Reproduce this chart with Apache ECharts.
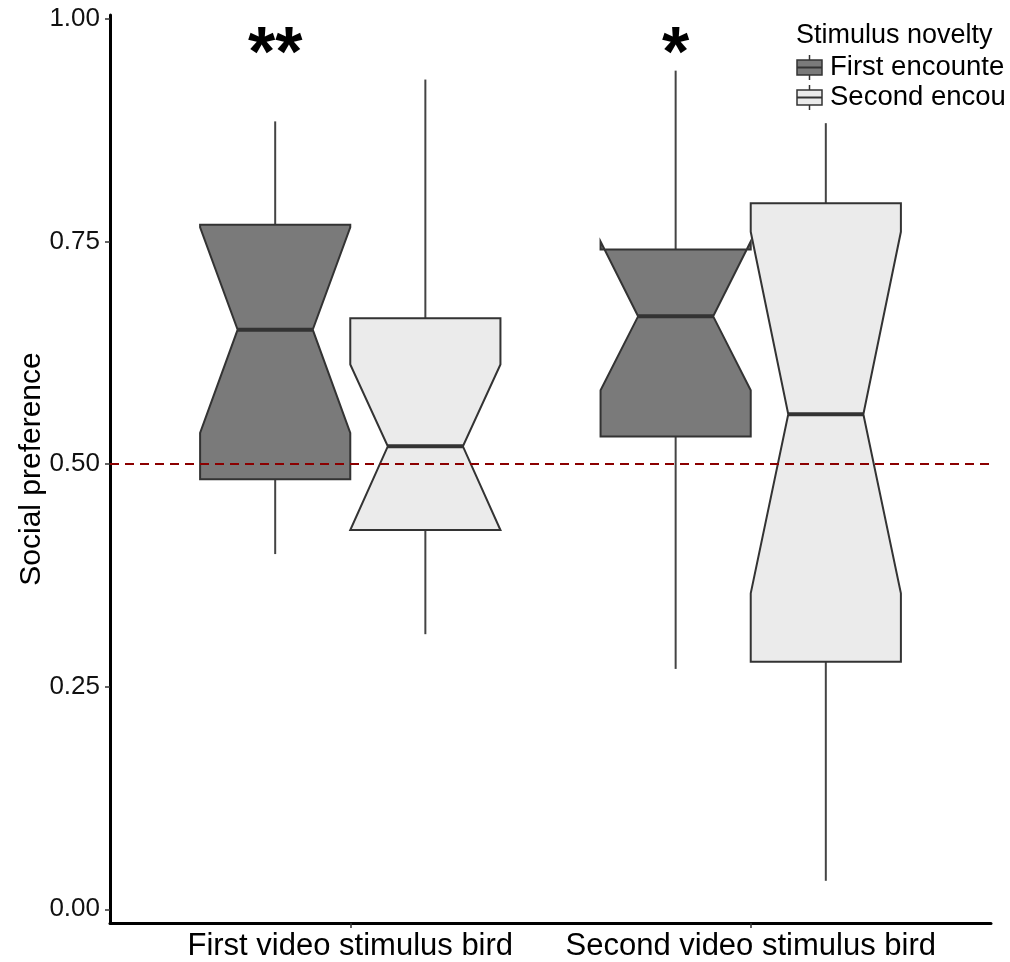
<!DOCTYPE html>
<html>
<head>
<meta charset="utf-8">
<script src="https://cdn.jsdelivr.net/npm/echarts@6/dist/echarts.min.js"></script>
<style>
html, body { margin: 0; padding: 0; background: #ffffff; }
#chart { position: absolute; left: 0; top: 0; width: 1005px; height: 962px; }
</style>
</head>
<body>
<div id="chart"></div>
<script>
// ---- data ----
const categories = ['First video stimulus bird', 'Second video stimulus bird'];
const groupNames = ['First encounter', 'Second encounter'];
const yTicks = [0, 0.25, 0.5, 0.75, 1];
const referenceLevel = 0.5;

// First encounter (dark boxes), one value per category
const firstWhiskerLow  = [0.399, 0.270];
const firstQ1          = [0.483, 0.531];
const firstNotchLow    = [0.535, 0.583];
const firstMedian      = [0.651, 0.666];
const firstNotchHigh   = [0.766, 0.750];
const firstQ3          = [0.769, 0.741];
const firstWhiskerHigh = [0.885, 0.942];

// Second encounter (light boxes)
const secondWhiskerLow  = [0.309, 0.032];
const secondQ1          = [0.426, 0.278];
const secondNotchLow    = [0.426, 0.355];
const secondMedian      = [0.520, 0.556];
const secondNotchHigh   = [0.612, 0.761];
const secondQ3          = [0.664, 0.793];
const secondWhiskerHigh = [0.932, 0.883];

// significance annotations
const starLabels = ['**', '*'];
const starCategory = [0, 1];
const starY = [0.958, 0.958];

// ---- build ----
const DODGE = 0.1875, HALF_W = 0.1875, NOTCH_W = 0.09375;
function buildBoxes(groupIndex, lo, q1, nlo, med, nhi, q3, hi) {
  return categories.map((c, i) => [
    i + 1 + (groupIndex === 0 ? -DODGE : DODGE),
    lo[i], q1[i], nlo[i], med[i], nhi[i], q3[i], hi[i]
  ]);
}
const firstData = buildBoxes(0, firstWhiskerLow, firstQ1, firstNotchLow, firstMedian, firstNotchHigh, firstQ3, firstWhiskerHigh);
const secondData = buildBoxes(1, secondWhiskerLow, secondQ1, secondNotchLow, secondMedian, secondNotchHigh, secondQ3, secondWhiskerHigh);

const EDGE = '#333333';
function makeRender(fill) {
  return function (params, api) {
    const x = api.value(0);
    const lo = api.value(1), q1 = api.value(2), nlo = api.value(3), med = api.value(4),
          nhi = api.value(5), q3 = api.value(6), hi = api.value(7);
    const P = (xv, yv) => api.coord([xv, yv]);
    const xl = x - HALF_W, xr = x + HALF_W, nl = x - NOTCH_W, nr = x + NOTCH_W;
    const poly = [
      P(xl, q3), P(xl, nhi), P(nl, med), P(xl, nlo), P(xl, q1),
      P(xr, q1), P(xr, nlo), P(nr, med), P(xr, nhi), P(xr, q3)
    ];
    const top = P(x, hi), upper = P(x, q3), lower = P(x, q1), bot = P(x, lo);
    const mL = P(nl, med), mR = P(nr, med);
    return {
      type: 'group',
      children: [
        { type: 'line', shape: { x1: top[0], y1: top[1], x2: upper[0], y2: upper[1] },
          style: { stroke: '#444444', lineWidth: 2 } },
        { type: 'line', shape: { x1: lower[0], y1: lower[1], x2: bot[0], y2: bot[1] },
          style: { stroke: '#444444', lineWidth: 2 } },
        { type: 'polygon', shape: { points: poly },
          style: { fill: fill, stroke: EDGE, lineWidth: 2, lineJoin: 'miter' } },
        { type: 'line', shape: { x1: mL[0], y1: mL[1], x2: mR[0], y2: mR[1] },
          style: { stroke: EDGE, lineWidth: 4 } }
      ]
    };
  };
}

const starData = starLabels.map((s, i) => [starCategory[i] + 1 - DODGE, starY[i]]);

const FONT = 'Liberation Sans, Arial, Helvetica, sans-serif';
const chart = echarts.init(document.getElementById('chart'), null, { renderer: 'canvas' });
function legendKey(y, fill) {
  return [
    { type: 'line', shape: { x1: 809.5, y1: y - 12.5, x2: 809.5, y2: y + 12.5 },
      style: { stroke: '#333333', lineWidth: 1.5 } },
    { type: 'rect', shape: { x: 797, y: y - 7.5, width: 25, height: 15 },
      style: { fill: fill, stroke: '#333333', lineWidth: 1.5 } },
    { type: 'line', shape: { x1: 797, y1: y, x2: 822, y2: y },
      style: { stroke: '#333333', lineWidth: 2 } }
  ];
}
chart.setOption({
  animation: false,
  backgroundColor: '#ffffff',
  grid: { left: 110, right: 14, top: 15, bottom: 39, containLabel: false, outerBoundsMode: 'none' },
  xAxis: {
    type: 'value', min: 0.4, max: 2.6,
    splitLine: { show: false },
    axisLine: { onZero: false, lineStyle: { color: '#000000', width: 3 } },
    axisTick: { customValues: [1, 2], length: 5, lineStyle: { color: '#333333', width: 1.5 } },
    axisLabel: { customValues: [1, 2], formatter: v => categories[Math.round(v) - 1],
      fontSize: 31, color: '#000000', fontFamily: FONT, margin: 8 }
  },
  yAxis: {
    type: 'value', min: -0.0154, max: 1.0045,
    name: 'Social preference', nameLocation: 'middle', nameGap: 63, nameMoveOverlap: false,
    nameTextStyle: { fontSize: 30, color: '#000000', fontFamily: FONT },
    splitLine: { show: false },
    axisLine: { onZero: false, lineStyle: { color: '#000000', width: 3 } },
    axisTick: { customValues: yTicks, length: 5, lineStyle: { color: '#333333', width: 1.5 } },
    axisLabel: { customValues: yTicks, formatter: v => v.toFixed(2),
      fontSize: 26, color: '#111111', fontFamily: FONT, margin: 10 }
  },
  series: [
    { name: groupNames[0], type: 'custom', renderItem: makeRender('#7a7a7a'), data: firstData, z: 2,
      encode: { x: 0, y: [1, 2, 3, 4, 5, 6, 7] } },
    { name: groupNames[1], type: 'custom', renderItem: makeRender('#ebebeb'), data: secondData, z: 2,
      encode: { x: 0, y: [1, 2, 3, 4, 5, 6, 7] } },
    { name: 'stars', type: 'custom', z: 5, data: starData,
      renderItem: function (params, api) {
        const p = api.coord([api.value(0), api.value(1)]);
        return { type: 'text', x: p[0], y: p[1],
          style: { text: starLabels[params.dataIndex], fill: '#000000',
            font: 'bold 70px ' + FONT, align: 'center', verticalAlign: 'middle' } };
      },
      markLine: {
        silent: true, symbol: ['none', 'none'], label: { show: false },
        lineStyle: { color: '#8B0000', width: 2, type: [9, 6] },
        data: [{ yAxis: referenceLevel }]
      }
    }
  ],
  graphic: [
    { type: 'text', x: 796, y: 36,
      style: { text: 'Stimulus novelty', font: '27px ' + FONT, fill: '#000000', verticalAlign: 'middle' } },
    ...legendKey(67.5, '#7a7a7a'),
    { type: 'text', x: 830, y: 67,
      style: { text: groupNames[0], font: '27.5px ' + FONT, fill: '#000000', verticalAlign: 'middle' } },
    ...legendKey(97.5, '#ebebeb'),
    { type: 'text', x: 830, y: 97,
      style: { text: groupNames[1], font: '27.5px ' + FONT, fill: '#000000', verticalAlign: 'middle' } }
  ]
});
</script>
</body>
</html>
